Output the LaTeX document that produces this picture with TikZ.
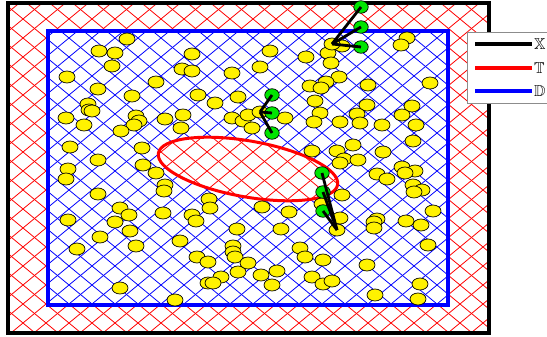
\documentclass[tikz,border=0pt]{standalone}
\usepackage{amsmath, amssymb}
\usepackage{tikz}
\usetikzlibrary{positioning,shapes.geometric}
\tikzset{
  ptnode/.style={draw, ellipse, fill=yellow, line width=0.4pt, minimum width=0.32cm, minimum height=0.24cm, inner sep=0pt},
  hitnode/.style={draw, ellipse, fill=green!90!black, line width=0.4pt, minimum width=0.29cm, minimum height=0.25cm, inner sep=0pt},
  linkline/.style={line width=1.6pt},
  hatchline/.style={line width=0.45pt},
  legline/.style={line width=2.2pt},
  legtext/.style={anchor=west, inner sep=1pt, font=\fontsize{9}{10}\selectfont}
}

\begin{document}
\begin{tikzpicture}[x=0.02cm, y=-0.02cm]
  \useasboundingbox (0,0) rectangle (547,337);
  % outer region, red hatch
  \begin{scope}
    \clip (8,3) rectangle (489,333);
    \foreach \i in {-20,...,44} {
      \draw[hatchline, red] (\i*23,0) -- ++(460,380);
      \draw[hatchline, red] (\i*23,0) -- ++(-460,380);
    }
  \end{scope}
  % domain, blue hatch
  \fill[white] (48,31) rectangle (448,305);
  \begin{scope}
    \clip (48,31) rectangle (448,305);
    \foreach \i in {-20,...,44} {
      \draw[hatchline, blue] (\i*23,0) -- ++(460,380);
      \draw[hatchline, blue] (\i*23,0) -- ++(-460,380);
    }
  \end{scope}
  % target ellipse
  \fill[white, rotate around={-10:(248,169)}] (248,169) ellipse (91 and 28);
  \begin{scope}
    \clip[rotate around={-10:(248,169)}] (248,169) ellipse (91 and 28);
    \foreach \i in {-20,...,44} {
      \draw[hatchline, red] (\i*23,0) -- ++(460,380);
      \draw[hatchline, red] (\i*23,0) -- ++(-460,380);
    }
  \end{scope}
  \draw[red, line width=1.7pt, rotate around={-10:(248,169)}] (248,169) ellipse (91 and 28);
  \draw[line width=2pt] (8,3) rectangle (489,333);
  \draw[blue, line width=1.8pt] (48,31) rectangle (448,305);

  % samples
  \foreach \px/\py [count=\k] in {127/39,99/51,115/53,112/66,192/54,182/69,192/71,67/77,98/89,156/82,
      132/96,198/95,215/103,232/73,238/97,88/104,89/110,92/111,66/118,84/125,136/116,139/121,134/125,
      121/131,165/119,183/115,181/128,232/118,243/121,70/147,142/148,98/160,143/165,68/169,66/179,
      156/173,165/185,164/191,98/194,209/199,210/208,120/208,129/215,163/213,192/215,196/221,115/222,
      68/220,130/231,100/237,237/229,77/249,136/246,180/241,233/246,233/252,235/257,197/257,208/262,
      238/272,221/277,208/283,213/283,120/288,175/300,
      342/46,328/53,331/63,407/38,401/45,270/51,306/57,260/67,339/77,326/82,310/86,321/88,368/85,
      430/83,315/101,320/113,314/122,367/105,357/114,360/123,340/122,382/125,412/106,402/115,416/125,
      413/141,285/118,248/115,252/128,312/151,337/151,353/145,383/152,344/159,358/160,340/163,402/167,
      415/171,405/173,377/174,387/179,413/185,422/190,414/192,342/195,322/204,262/207,289/212,433/211,
      340/218,377/219,374/222,374/228,406/221,421/225,281/229,428/245,300/248,305/257,323/260,248/263,
      367/265,277/271,261/275,272/285,312/277,323/284,332/281,420/284,375/295,418/299}
    \node[ptnode] (pt\k) at (\px,\py) {};
  \node[ptnode] (tgtA) at (332,44) {};
  \node[ptnode] (tgtB) at (260,112) {};
  \node[ptnode] (tgtC) at (337,230) {};

  % hits
  \node[hitnode] (hA1) at (361,7) {};
  \node[hitnode] (hA2) at (361,27) {};
  \node[hitnode] (hA3) at (361,47) {};
  \node[hitnode] (hB1) at (272,95) {};
  \node[hitnode] (hB2) at (272,113) {};
  \node[hitnode] (hB3) at (272,133) {};
  \node[hitnode] (hC1) at (322,173) {};
  \node[hitnode] (hC2) at (323,192) {};
  \node[hitnode] (hC3) at (323,211) {};
  \foreach \g in {A,B,C} {
    \foreach \j in {1,2,3}
      \draw[linkline] (tgt\g.center) -- (h\g\j.center);
  }

  % legend
  \draw[draw=black!45, fill=white] (467,32) rectangle (575,103);
  \coordinate (lxa) at (475,44);
  \coordinate (lta) at (475,68);
  \coordinate (lda) at (475,91);
  \node[legtext] (lx) at (532,44) {$\mathbb{X}$};
  \node[legtext] (lt) at (532,68) {$\mathbb{T}$};
  \node[legtext] (ld) at (532,91) {$\mathbb{D}$};
  \draw[legline, black] (lxa) -- (lx.west);
  \draw[legline, red] (lta) -- (lt.west);
  \draw[legline, blue] (lda) -- (ld.west);
\end{tikzpicture}
\end{document}
